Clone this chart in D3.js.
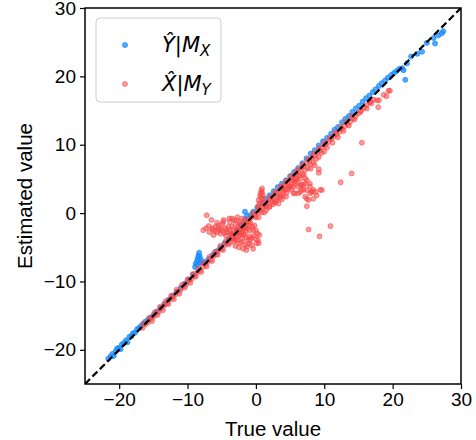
<html>
<head>
<meta charset="utf-8">
<script src="https://d3js.org/d3.v7.min.js"></script>
<style>
body { margin: 0; background: #fff; }
text { font-family: "Liberation Sans", Arial, sans-serif; }
</style>
</head>
<body>
<svg id="chart" width="476" height="440"></svg>
<script>

// tick labels
var ticks = [-20, -10, 0, 10, 20, 30];

// Y-hat | M_X  (true, estimated)
var bluePoints = [
	[-21.6,-21.3],[-21.3,-21.0],[-21.0,-20.6],[-20.8,-20.9],[-20.5,-20.2],[-20.3,-19.8],[-20.0,-19.7],[-19.8,-19.9],
	[-19.6,-19.2],[-19.3,-19.0],[-19.0,-18.6],[-18.8,-18.9],[-18.5,-18.1],[-18.2,-18.0],[-18.0,-17.6],[-17.7,-17.5],
	[-17.4,-17.0],[-17.1,-16.8],[-16.8,-16.5],[-16.5,-16.2],[-16.2,-15.9],[-15.8,-15.6],[-15.4,-15.3],[-15.0,-14.9],
	[-14.5,-14.4],[-14.0,-13.9],[-13.4,-13.3],[-12.8,-12.7],[-12.2,-12.1],[-11.6,-11.5],[-11.0,-10.9],[-10.4,-10.3],
	[-9.8,-9.7],[-9.2,-9.0],[-8.8,-7.4],[-8.6,-7.0],[-8.5,-6.6],[-8.4,-6.2],[-8.3,-5.8],[-8.2,-6.4],[-8.0,-6.9],
	[-8.6,-7.6],[-8.1,-7.2],[-8.9,-7.9],[-7.8,-7.3],[-7.4,-7.1],[-6.9,-6.7],[-6.3,-6.1],[-5.8,-5.6],[-5.2,-5.0],
	[-4.6,-4.4],[-4.0,-3.8],[-3.4,-3.2],[-2.8,-2.5],[-2.2,-1.7],[-1.6,0.2],[-1.6,-0.9],[-1.3,-0.4],[-0.8,-0.3],
	[-0.4,0.2],[0.2,0.8],[0.8,1.5],[1.4,2.1],[2.0,2.6],[2.6,3.2],[3.2,3.8],[3.8,4.3],[4.4,4.8],[5.0,5.4],[5.6,6.0],
	[6.2,6.6],[6.8,7.3],[7.4,8.0],[8.0,8.7],[8.6,9.2],[9.2,9.9],[9.8,10.5],[10.4,11.0],[11.0,11.6],[11.5,12.2],
	[12.0,12.6],[12.6,13.3],[13.1,13.8],[13.6,14.2],[14.1,14.8],[14.6,15.3],[15.1,15.7],[15.6,16.3],[16.1,16.8],
	[16.6,17.2],[17.1,17.7],[17.5,18.1],[18.0,18.6],[18.4,19.0],[18.9,19.4],[19.3,19.8],[19.8,20.2],[20.2,20.5],
	[20.6,20.8],[21.0,21.1],[21.4,21.2],[21.6,20.9],[21.85,19.5],[22.1,21.9],[22.7,22.9],[23.6,23.3],[24.3,23.6],
	[25.0,24.9],[26.0,25.6],[26.2,24.8],[26.7,26.0],[27.2,26.3],[27.4,26.6]
];

// X-hat | M_Y  (true, estimated)
var redPoints = [
	// main band
	[-16.6,-16.8],[-16.2,-16.3],[-15.8,-16.0],[-15.4,-15.5],[-15.0,-15.2],[-14.6,-14.7],[-14.2,-14.4],[-13.8,-13.9],
	[-13.4,-13.5],[-13.0,-13.2],[-12.6,-12.6],[-12.2,-12.4],[-11.8,-11.9],[-11.4,-11.5],[-11.0,-11.2],[-10.6,-10.7],
	[-10.2,-10.4],[-9.8,-9.9],[-9.4,-9.6],[-9.0,-9.2],[-8.6,-8.7],[-8.2,-8.4],[-7.8,-7.9],[-7.4,-7.6],[-7.0,-7.1],
	[-6.6,-6.8],[-6.2,-6.3],[-5.8,-6.0],[-5.4,-5.4],[-5.0,-5.2],[-4.6,-4.7],[-4.2,-4.4],[-3.8,-3.8],[-3.4,-3.6],
	[-3.0,-3.1],[-2.6,-2.8],[-2.2,-2.3],[-1.8,-2.0],[-1.4,-1.5],[-1.0,-1.2],[-0.6,-0.6],[-0.2,-0.4],[0.2,0.1],
	[0.6,0.4],[1.0,0.9],[1.4,1.2],[1.8,1.7],[2.2,2.0],[2.6,2.5],[3.0,2.8],[3.4,3.3],[3.8,3.6],[4.2,4.1],[4.6,4.4],
	[5.0,4.9],[5.4,5.2],[5.8,5.7],[6.2,6.0],[6.6,6.5],[7.0,6.8],[7.4,7.3],[7.8,7.6],[8.2,8.1],[8.6,8.4],[9.0,8.9],
	[9.4,9.2],[9.8,9.7],[10.2,10.0],[10.6,10.4],[11.0,10.8],[11.4,11.2],[11.8,11.5],[12.2,11.9],[12.6,12.3],
	[13.0,12.7],[13.4,13.0],[13.8,13.4],[14.2,13.8],[14.6,14.2],[15.0,14.6],[15.4,15.0],[15.8,15.4],[16.2,15.8],
	[16.7,16.2],[17.2,16.6],
	[-15.2,-15.8],[-14.4,-14.9],[-13.6,-14.2],[-12.8,-13.3],[-12.0,-12.6],[-11.2,-11.8],[-10.4,-10.9],[-9.6,-10.2],
	[-8.8,-9.3],[-8.0,-8.6],[-7.2,-7.8],[-6.4,-7.0],[-5.6,-6.1],[-4.8,-5.4],[-4.0,-4.6],[-3.2,-3.8],[-2.4,-3.0],
	[-1.6,-2.2],[-0.8,-1.4],[0.0,-0.6],[0.8,0.1],[1.6,0.9],[2.4,1.7],[3.2,2.4],[4.0,3.2],[4.8,4.0],[5.6,4.7],
	[6.4,5.5],[7.2,6.3],[8.0,7.1],[8.8,7.9],[9.6,8.8],[10.4,9.6],[11.2,10.3],[12.0,11.1],[12.8,12.0],[13.6,12.8],
	[14.4,13.7],
	[-14.8,-14.5],[-13.2,-12.9],[-11.6,-11.2],[-10.0,-9.7],[-8.4,-8.1],[-6.8,-6.4],[-5.2,-4.8],[-3.6,-3.2],
	[-2.0,-1.6],[-0.4,0.0],[1.2,1.5],[2.8,3.1],[4.4,4.7],[6.0,6.3],[7.6,7.9],[9.2,9.5],[10.8,11.0],[12.4,12.6],
	[14.0,14.2],
	[-16.4,-16.2],[-15.6,-15.3],[-14.0,-13.7],[-12.4,-12.1],[-10.8,-10.5],[-9.2,-8.9],[-7.6,-7.3],[-6.0,-5.7],
	[-4.4,-4.1],[-2.8,-2.5],[-1.2,-0.9],[0.4,0.7],[2.0,2.3],[3.6,3.9],[5.2,5.5],[6.8,7.1],[8.4,8.7],[10.0,10.3],
	[11.6,11.8],[13.2,13.4],
	[0.4,-0.6],[1.2,0.1],[2.0,1.0],[2.8,1.8],[3.6,2.5],[4.4,3.4],[5.2,4.1],[6.0,5.0],[6.8,5.7],[7.6,6.6],
	[8.4,7.4],[9.2,8.2],[10.0,9.0],
	// upper end
	[15.3,14.8],[16.2,15.3],[16.7,16.3],[16.9,16.05],[17.7,16.5],[17.9,15.5],[18.0,16.5],[18.7,17.3],[19.1,17.1],
	[19.4,17.9],[19.6,17.9],
	// cluster left of origin
	[-7.7,-2.5],[-7.2,-0.3],[-6.9,-1.9],[-6.5,-1.0],[-6.2,-3.2],[-5.7,-1.4],[-5.4,-2.4],[-5.2,-3.0],[-4.9,-1.6],
	[-4.7,-1.0],[-4.5,-2.2],[-4.2,-2.8],[-4.0,-2.0],[-3.8,-1.3],[-3.5,-0.8],[-3.3,-2.4],[-3.0,-1.6],[-2.8,-1.1],
	[-2.6,-2.0],[-2.3,-1.3],[-6.0,-2.6],[-5.9,-2.0],[-6.8,-2.8],[-5.0,-2.6],[-4.4,-3.3],[-3.6,-3.0],[-7.3,-2.2],
	[-6.4,-2.2],[-5.5,-1.8],[-4.8,-1.3],[-3.5,-2.0],[-3.2,-1.0],[-2.7,-0.6],[-2.0,-0.8],[-1.5,-1.2],[-1.0,-1.8],
	[-0.5,-2.0],[-3.8,-2.6],[-3.4,-3.2],[-2.8,-2.6],[-2.4,-2.2],[-2.0,-2.4],[-1.6,-2.0],[-1.2,-2.2],[-4.6,-2.9],
	[-5.2,-2.2],[-5.7,-2.8],[-6.3,-2.4],[-4.3,-2.4],[-3.9,-0.8],
	// cluster below origin
	[-3.3,-3.5],[-2.9,-3.9],[-2.6,-3.4],[-2.3,-4.4],[-2.0,-3.7],[-1.8,-3.2],[-1.6,-4.6],[-1.3,-4.9],[-1.1,-4.0],
	[-0.8,-3.9],[-0.6,-4.7],[-0.4,-5.2],[-0.3,-3.3],[0.1,-4.4],[0.4,-4.4],[-1.5,-2.7],[-0.9,-2.5],[-0.4,-2.5],
	[-2.1,-2.9],[-1.0,-3.4],[0.2,-3.0],[-0.2,-1.8],[-3.8,-4.3],[-3.0,-4.8],[-2.5,-5.0],[0.0,-2.5],[0.5,-3.2],
	[-1.8,-3.0],[-1.4,-3.6],[-2.4,-3.2],[-2.7,-4.0],[-2.0,-4.2],[-1.0,-4.5],[-0.6,-3.6],[0.0,-3.8],[0.3,-4.0],
	[-1.9,-5.2],[-1.4,-5.4],[-3.2,-4.2],
	// spike
	[0.4,1.9],[0.6,2.5],[0.7,2.9],[0.8,3.3],[0.9,3.6],[1.0,2.1],[0.5,1.4],[0.3,1.0],[1.1,1.5],[1.2,1.0],
	[0.9,3.0],[1.0,2.6],[0.8,2.2],
	// spread right of the band
	[1.5,0.4],[2.0,0.9],[2.5,1.3],[3.0,1.8],[3.3,1.4],[3.5,2.2],[4.0,2.6],[4.5,3.0],[4.0,3.9],[4.8,3.6],
	[5.0,3.85],[5.3,4.8],[5.5,2.9],[5.5,3.85],[5.7,2.9],[6.0,4.6],[6.0,5.6],[6.2,2.9],[6.5,4.1],[6.7,3.4],
	[6.7,4.1],[7.0,3.4],[7.2,4.3],[7.2,2.4],[7.2,5.1],[7.45,2.1],[7.45,1.0],[7.45,4.8],[7.7,1.9],[7.9,3.9],
	[7.9,2.9],[7.9,4.3],[8.2,3.1],[8.4,3.4],[8.4,2.1],[8.7,3.1],[8.9,2.6],[9.4,3.4],[9.2,5.9],[9.2,6.4],
	[5.7,4.3],[6.5,3.1],[7.45,3.36],[8.18,3.11],[9.65,3.36],[6.96,4.1],[6.2,3.85],[3.8,2.0],[4.4,2.4],[5.2,3.4],
	[2.8,1.5],[3.6,2.6],[4.2,3.4],[5.8,4.9],[6.5,5.0],[7.0,5.6],[8.0,6.5],[8.6,7.0],
	[12.4,4.5],[14.0,5.8],[15.5,10.3],[10.9,-1.9],[9.3,-3.4],[7.7,-2.4]
];

var svg = d3.select("#chart"),
	margin = {top: 8, left: 85, bottom: 56, right: 15},
	width = +svg.attr("width"),
	height = +svg.attr("height");

var x = d3.scaleLinear()
	.domain([-25, 30])
	.range([margin.left, width - margin.right]);

var y = d3.scaleLinear()
	.domain([-25, 30])
	.range([height - margin.bottom, margin.top]);

svg.append("clipPath").attr("id", "clip")
	.append("rect")
	.attr("x", margin.left).attr("y", margin.top)
	.attr("width", x(30) - x(-25)).attr("height", y(-25) - y(30));

var plot = svg.append("g").attr("clip-path", "url(#clip)");

// blue first, red on top
plot.append("g").selectAll("circle")
	.data(bluePoints)
	.enter().append("circle")
	.attr("cx", d => x(d[0]))
	.attr("cy", d => y(d[1]))
	.attr("r", 2.5)
	.attr("fill", "#1a8cff").attr("fill-opacity", 0.75)
	.attr("stroke", "#1a8cff").attr("stroke-opacity", 0.75).attr("stroke-width", 1);

plot.append("g").selectAll("circle")
	.data(redPoints)
	.enter().append("circle")
	.attr("cx", d => x(d[0]))
	.attr("cy", d => y(d[1]))
	.attr("r", 2.5)
	.attr("fill", "#f84848").attr("fill-opacity", 0.55)
	.attr("stroke", "#f84848").attr("stroke-opacity", 0.55).attr("stroke-width", 1);

// identity line
plot.append("line")
	.attr("x1", x(-25)).attr("y1", y(-25))
	.attr("x2", x(30)).attr("y2", y(30))
	.attr("stroke", "#000")
	.attr("stroke-width", 2.2)
	.attr("stroke-dasharray", "7,3.5");

// axes
var xAxis = svg.append("g")
	.attr("transform", `translate(0,${y(-25)})`)
	.call(d3.axisBottom(x).tickValues(ticks).tickSize(5).tickPadding(4))
xAxis.select(".domain").remove();
xAxis.selectAll("line").attr("stroke-width", 1.2);
xAxis.selectAll("text").attr("font-size", 19).attr("font-family", "Liberation Sans, Arial, sans-serif").attr("fill", "#000");

var yAxis = svg.append("g")
	.attr("transform", `translate(${x(-25)},0)`)
	.call(d3.axisLeft(y).tickValues(ticks).tickSize(5).tickPadding(4))
yAxis.select(".domain").remove();
yAxis.selectAll("line").attr("stroke-width", 1.2);
yAxis.selectAll("text").attr("font-size", 19).attr("font-family", "Liberation Sans, Arial, sans-serif").attr("fill", "#000");

svg.append("rect")
	.attr("x", x(-25)).attr("y", y(30))
	.attr("width", x(30) - x(-25)).attr("height", y(-25) - y(30))
	.attr("fill", "none").attr("stroke", "#000").attr("stroke-width", 1.5);

svg.append("text")
	.attr("x", (x(-25) + x(30)) / 2).attr("y", 436)
	.attr("text-anchor", "middle").attr("font-size", 20.5)
	.text("True value");

svg.append("text")
	.attr("transform", `translate(32,${(y(-25) + y(30)) / 2}) rotate(-90)`)
	.attr("text-anchor", "middle").attr("font-size", 20.5)
	.text("Estimated value");

// legend
var legend = svg.append("g");
legend.append("rect")
	.attr("x", 96).attr("y", 18).attr("width", 125).attr("height", 84)
	.attr("rx", 4)
	.attr("fill", "#fff").attr("fill-opacity", 0.8)
	.attr("stroke", "#ccc").attr("stroke-width", 1);

var items = [
	{color: "#1a8cff", op: 0.75, main: "\u0176", sub: "X"},
	{color: "#f84848", op: 0.55, main: "X\u0302", sub: "Y"}
];

items.forEach(function(d, i) {
	var cy = 45 + i * 39;
	legend.append("circle")
		.attr("cx", 125).attr("cy", cy).attr("r", 2.5)
		.attr("fill", d.color).attr("fill-opacity", d.op)
		.attr("stroke", d.color).attr("stroke-opacity", d.op);
	var t = legend.append("text")
		.attr("x", 162).attr("y", cy + 7)
		.attr("font-size", 21)
		.style("font-family", "DejaVu Sans, sans-serif");
	t.append("tspan").attr("font-style", "italic").text(d.main);
	t.append("tspan").text("|");
	t.append("tspan").attr("font-style", "italic").text("M");
	t.append("tspan").attr("font-style", "italic").attr("font-size", 15).attr("dy", 4).text(d.sub);
});

</script>
</body>
</html>
